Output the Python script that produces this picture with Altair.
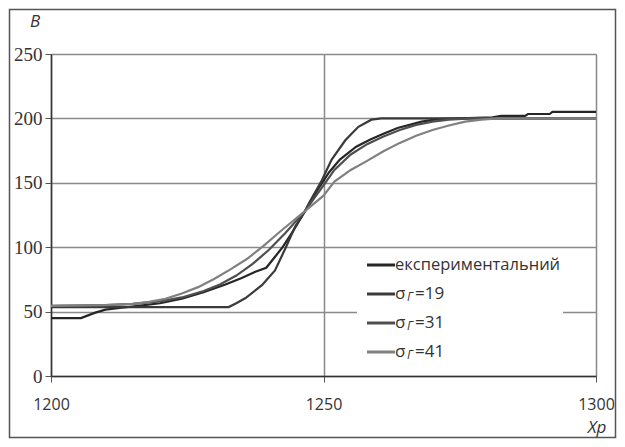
import altair as alt
import pandas as pd

# ---- data ----
exp_x = [1200, 1205.5, 1208, 1210, 1213, 1216, 1220, 1224, 1228, 1232, 1235, 1237.5, 1239.5,
         1241, 1242.5, 1244.5, 1246.6, 1249, 1251, 1253, 1254.5, 1256, 1258.5, 1261, 1263.6,
         1268, 1271, 1275, 1281, 1282.6, 1287, 1287.5, 1291.5, 1292, 1300]
exp_y = [45, 45, 49, 51.5, 53, 54.5, 56.5, 60, 65, 71, 76, 81, 84,
         92, 100, 113, 128, 145, 158, 168, 173, 178, 183.5, 188, 192.5,
         197.5, 199.5, 200, 200.8, 202, 202, 203.4, 203.4, 205, 205]

s19_x = [1200, 1232.6, 1234, 1235.7, 1238.7, 1241.1, 1243, 1244.8, 1246.6, 1247.3, 1249.7,
         1251.5, 1254, 1256.4, 1258.8, 1260.6, 1300]
s19_y = [53.5, 53.5, 56.5, 60.5, 70.5, 82, 99, 116, 128, 134, 152,
         168, 183, 193.5, 199, 200, 200]

s31_x = [1200, 1210, 1215, 1220, 1224, 1228, 1231, 1234, 1237, 1240, 1243, 1246.6, 1250,
         1252, 1255, 1258, 1261, 1264, 1267, 1270, 1273, 1277, 1300]
s31_y = [54.5, 55, 56, 58, 61, 66, 71, 78, 87, 98, 111, 128, 148,
         160, 172, 180, 186, 191, 195, 197.5, 199, 200, 200]

s41_x = [1200, 1210, 1215, 1218, 1221, 1224, 1227, 1230, 1233, 1236, 1239, 1242, 1244,
         1246.6, 1250, 1252, 1255, 1258, 1261, 1264, 1267, 1270, 1273, 1276, 1279, 1282, 1300]
s41_y = [54.5, 55, 56, 57.5, 60, 64, 69, 75.5, 83, 91, 101, 112, 119,
         128, 140, 151, 160, 167, 174.5, 181, 186.5, 191, 194.5, 197.5, 199, 200, 200]

series_names = ["експериментальний", "σГ=19", "σГ=31", "σГ=41"]
series_colors = ["#262626", "#3a3a3a", "#4f4f4f", "#808080"]
x_ticks = [1200, 1250, 1300]
y_ticks = [0, 50, 100, 150, 200, 250]

rows = []
for name, xs, ys in zip(series_names, [exp_x, s19_x, s31_x, s41_x], [exp_y, s19_y, s31_y, s41_y]):
    for i, (a, b) in enumerate(zip(xs, ys)):
        rows.append({"series": name, "x": a, "y": b, "i": i})
df = pd.DataFrame(rows)

W, H = 545, 322

xscale = alt.Scale(domain=[1200, 1300], nice=False, zero=False)
yscale = alt.Scale(domain=[0, 250], nice=False)

xaxis = alt.Axis(values=x_ticks, title=None, grid=True, gridColor="#8a8a8a", gridWidth=1.5,
                 domainColor="#333333", domainWidth=1.5, tickColor="#555555", tickSize=6,
                 labelFont="Open Sans", labelFontSize=16, labelColor="#333333", labelPadding=14,
                 labelFlush=False, format="d")
yaxis = alt.Axis(values=y_ticks, title=None, grid=True, gridColor="#8a8a8a", gridWidth=1.5,
                 domainColor="#333333", domainWidth=1.5, tickColor="#555555", tickSize=6,
                 labelFont="Liberation Serif", labelFontSize=19, labelColor="#333333", labelPadding=3)

base = alt.Chart(df)

lines = base.mark_line(strokeWidth=2.2).encode(
    x=alt.X("x:Q", scale=xscale, axis=xaxis),
    y=alt.Y("y:Q", scale=yscale, axis=yaxis),
    color=alt.Color("series:N", scale=alt.Scale(domain=series_names, range=series_colors), legend=None),
    order="i:Q",
    detail="series:N",
)

one = pd.DataFrame({"a": [0]})

# legend box (white) and entries
box = alt.Chart(one).mark_rect(fill="white").encode(
    x=alt.value(306), x2=alt.value(512), y=alt.value(198), y2=alt.value(316)
)

leg_y = [211, 240, 269, 298]
layers = [alt.Chart(one).mark_rule(strokeWidth=3, color=c).encode(
    x=alt.value(316), x2=alt.value(344), y=alt.value(yy))
    for c, yy in zip(series_colors, leg_y)]


def txt(s, x, y, size=16, style="normal", font="Open Sans", align="left", color="#333333"):
    return alt.Chart(one).mark_text(text=s, font=font, fontSize=size, fontStyle=style,
                                    align=align, baseline="middle", color=color).encode(
        x=alt.value(x), y=alt.value(y))

texts = [txt("експериментальний", 344, leg_y[0], size=16.5)]
for yy, v in zip(leg_y[1:], ["=19", "=31", "=41"]):
    texts.append(txt("σ", 344, yy, size=17))
    texts.append(txt("Г", 356, yy + 3, size=12, style="italic"))
    texts.append(txt(v, 364, yy, size=17))

titles = [txt("B", -21, -32, size=17, style="italic"),
          txt("Xp", 546, 374, size=17, style="italic", align="center")]

frame = alt.Chart(one).mark_rect(fill=None, stroke="#555555", strokeWidth=1.5).encode(
    x=alt.value(-41.5), x2=alt.value(W + 19.5), y=alt.value(-44.5), y2=alt.value(H + 61.5)
)

chart = alt.layer(lines, box, *layers, *texts, *titles, frame).properties(
    width=W, height=H,
    autosize=alt.AutoSizeParams(type="none"),
    padding={"left": 43, "top": 46, "right": 21, "bottom": 63},
).configure_view(stroke=None).configure(background="white")

chart.save("out.html", embed_options={"renderer": "svg", "actions": False})
